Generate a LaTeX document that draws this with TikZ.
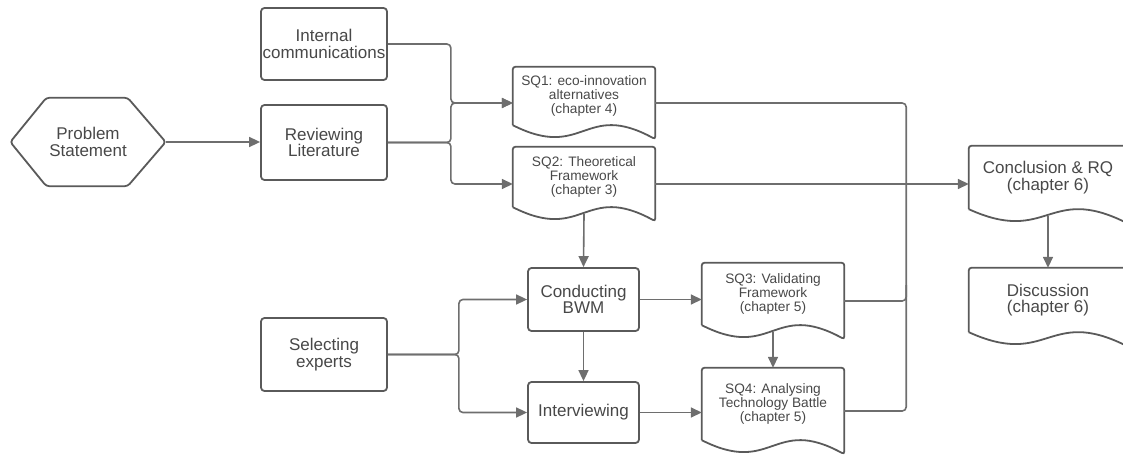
\documentclass[tikz,border=0pt]{standalone}
\usepackage{fontspec}
\setmainfont{Liberation Sans}
\usetikzlibrary{arrows.meta,calc}

\definecolor{edgegray}{HTML}{5A5A5A}
\definecolor{wiregray}{HTML}{6E6E6E}
\definecolor{inkgray}{HTML}{484848}

\newcommand\bigtxt{\fontsize{17}{16.5}\selectfont}
\newcommand\smalltxt{\fontsize{13.7}{14}\selectfont}

% document outline: straight top and sides, wavy bottom edge
\newcommand\docoutline[1]{%
  \draw[outline, rounded corners=2.5pt]
    (#1.south west) -- (#1.north west) -- (#1.north east) -- ([yshift=-14pt]#1.south east)
    [sharp corners] .. controls ([yshift=25pt]#1.south) and ([yshift=-36pt]#1.south) .. (#1.south west);}

\begin{document}
\begin{tikzpicture}[x=1pt, y=-1pt,
  outline/.style={draw=edgegray, line width=1.8pt},
  stepbox/.style={outline, rounded corners=3.5pt, fill=white, align=center,
    inner sep=0pt, text=inkgray, font=\bigtxt},
  docnode/.style={align=center, inner sep=0pt, text=inkgray, minimum width=142pt},
  wire/.style={draw=wiregray, line width=1.6pt, rounded corners=4pt},
  flow/.style={wire, -{Triangle[length=11pt,width=10pt]}}]

\clip (0,0) rectangle (1123,457);

% problem statement (hexagon)
\node[align=center, inner sep=0pt, text=inkgray, font=\bigtxt,
      minimum width=155pt, minimum height=88pt] (ps) at (88,142) {Problem\\Statement};
\draw[outline, rounded corners=3pt] (ps.west) -- ([xshift=36pt]ps.north west)
  -- ([xshift=-38pt]ps.north east) -- (ps.east) -- ([xshift=-38pt]ps.south east)
  -- ([xshift=36pt]ps.south west) -- cycle;

% process steps
\node[stepbox, minimum width=126pt, minimum height=72pt] (ic) at (324,44) {Internal\\communications};
\node[stepbox, minimum width=126pt, minimum height=75pt] (rl) at (324,142.5) {Reviewing\\Literature};
\node[stepbox, minimum width=126pt, minimum height=73pt] (se) at (324,354.5) {Selecting\\experts};
\node[stepbox, minimum width=111pt, minimum height=63pt] (bwm) at (583.5,299.5) {Conducting\\BWM};
\node[stepbox, minimum width=111pt, minimum height=61pt] (iv) at (583.5,412.5) {Interviewing};

% documents
\node[docnode, font=\smalltxt, minimum height=58pt] (sq1) at (584,96) {SQ1: eco-innovation\\alternatives\\(chapter 4)};
\node[docnode, font=\smalltxt, minimum height=60pt] (sq2) at (584,177) {SQ2: Theoretical\\Framework\\(chapter 3)};
\node[docnode, font=\smalltxt, minimum height=62pt] (sq3) at (773,294) {SQ3: Validating\\Framework\\(chapter 5)};
\node[docnode, font=\smalltxt, minimum height=72pt] (sq4) at (773,404) {SQ4: Analysing\\Technology Battle\\(chapter 5)};
\node[docnode, font=\bigtxt, minimum width=158pt, minimum height=63pt] (con) at (1048,177.5) {Conclusion \& RQ\\(chapter 6)};
\node[docnode, font=\bigtxt, minimum width=158pt, minimum height=64pt] (dis) at (1048,300) {Discussion\\(chapter 6)};
\foreach \d in {sq1,sq2,sq3,sq4,con,dis} {\docoutline{\d}}

% connection points on the documents
\foreach \d in {sq1,sq2,sq3,sq4,con} {
  \coordinate (\d-in) at ([yshift=-7pt]\d.west);
  \coordinate (\d-out) at ([yshift=-7pt]\d.east);
  \coordinate (\d-foot) at ([yshift=-7pt]\d.south);
}

% connectors
\draw[flow] (ps.east) -- (ps.east -| rl.west);
\draw[flow] (ic.east) -- ++(63,0) |- (sq1-in);
\draw[flow] (rl.east) -- ++(63,0) |- (sq1-in);
\draw[flow] (rl.east) -- ++(63,0) |- (sq2-in);
\draw[flow] (sq2-foot) -- (bwm.north);
\draw[flow] (se.east) -- ++(71,0) |- (bwm.west);
\draw[flow] (se.east) -- ++(71,0) |- (iv.west);
\draw[flow] (bwm.south) -- (iv.north);
\draw[flow] (bwm.east) -- (bwm.east -| sq3.west);
\draw[flow] (iv.east) -- (iv.east -| sq4.west);
\draw[flow] (sq3-foot) -- (sq4.north);
\draw[wire] (sq1-out) -- ++(251,0) |- (sq4-out);
\draw[wire] (sq3-out) -- ++(62,0) -- ++(0,-16);
\draw[flow] (sq2-out) -- (sq2-out -| con.west);
\draw[flow] (con-foot) -- (dis.north);

\end{tikzpicture}
\end{document}
